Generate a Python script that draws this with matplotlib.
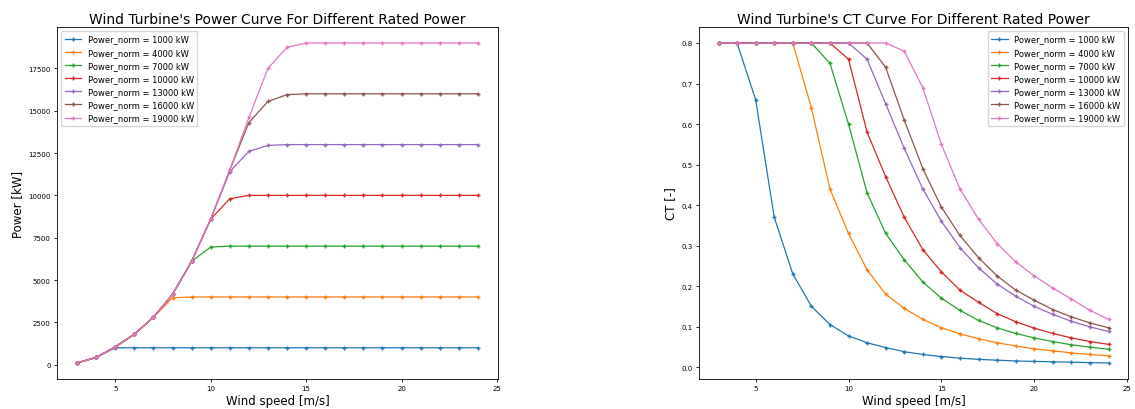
import numpy as np
import matplotlib.pyplot as plt

wind_speed = list(range(3, 25))
rated_power = [1000, 4000, 7000, 10000, 13000, 16000, 19000]
legend_labels = ["Power_norm = %d kW" % p for p in rated_power]

# power curves [kW], one list per rated power
power_1000 = [100, 430, 1000] + [1000] * 19
power_4000 = [100, 430, 1050, 1800, 2800, 3950] + [4000] * 16
power_7000 = [100, 430, 1050, 1800, 2800, 4150, 6100, 6950] + [7000] * 14
power_10000 = [100, 430, 1050, 1800, 2800, 4150, 6100, 8600, 9800] + [10000] * 13
power_13000 = [100, 430, 1050, 1800, 2800, 4150, 6100, 8600, 11400, 12600, 12950] + [13000] * 11
power_16000 = [100, 430, 1050, 1800, 2800, 4150, 6100, 8600, 11500, 14300, 15550, 15950] + [16000] * 10
power_19000 = [100, 430, 1050, 1800, 2800, 4150, 6100, 8600, 11500, 14600, 17500, 18750] + [19000] * 10

# thrust coefficient curves [-]
ct_1000 = [0.8, 0.8, 0.66, 0.37, 0.23, 0.15, 0.105, 0.077, 0.06, 0.048, 0.038, 0.031,
           0.026, 0.022, 0.019, 0.017, 0.015, 0.014, 0.013, 0.012, 0.011, 0.010]
ct_4000 = [0.8, 0.8, 0.8, 0.8, 0.8, 0.64, 0.44, 0.33, 0.24, 0.18, 0.145, 0.118,
           0.097, 0.082, 0.07, 0.06, 0.052, 0.045, 0.04, 0.035, 0.031, 0.028]
ct_7000 = [0.8, 0.8, 0.8, 0.8, 0.8, 0.8, 0.75, 0.6, 0.43, 0.33, 0.265, 0.21,
           0.17, 0.14, 0.115, 0.097, 0.083, 0.072, 0.063, 0.055, 0.049, 0.044]
ct_10000 = [0.8, 0.8, 0.8, 0.8, 0.8, 0.8, 0.8, 0.76, 0.58, 0.47, 0.37, 0.29,
            0.235, 0.19, 0.16, 0.132, 0.112, 0.096, 0.083, 0.072, 0.063, 0.056]
ct_13000 = [0.8, 0.8, 0.8, 0.8, 0.8, 0.8, 0.8, 0.8, 0.76, 0.65, 0.54, 0.44,
            0.36, 0.295, 0.245, 0.205, 0.175, 0.15, 0.13, 0.113, 0.099, 0.088]
ct_16000 = [0.8, 0.8, 0.8, 0.8, 0.8, 0.8, 0.8, 0.8, 0.8, 0.74, 0.61, 0.49,
            0.395, 0.325, 0.27, 0.225, 0.19, 0.165, 0.142, 0.124, 0.109, 0.097]
ct_19000 = [0.8, 0.8, 0.8, 0.8, 0.8, 0.8, 0.8, 0.8, 0.8, 0.8, 0.78, 0.69,
            0.55, 0.44, 0.365, 0.305, 0.26, 0.225, 0.195, 0.168, 0.14, 0.118]

power_curves = [power_1000, power_4000, power_7000, power_10000, power_13000, power_16000, power_19000]
ct_curves = [ct_1000, ct_4000, ct_7000, ct_10000, ct_13000, ct_16000, ct_19000]

fig = plt.figure(figsize=(11.35, 4.10), dpi=100)
ax1 = fig.add_axes([57 / 1135, 30 / 410, 441 / 1135, 352 / 410])
ax2 = fig.add_axes([699 / 1135, 30 / 410, 429 / 1135, 352 / 410])

for p, lab in zip(power_curves, legend_labels):
    ax1.plot(wind_speed, p, marker='+', markersize=3.5, linewidth=0.9, label=lab)
for c, lab in zip(ct_curves, legend_labels):
    ax2.plot(wind_speed, c, marker='+', markersize=3.5, linewidth=0.9, label=lab)

ax1.set_title("Wind Turbine's Power Curve For Different Rated Power", fontsize=10, pad=3)
ax1.set_xlabel("Wind speed [m/s]", fontsize=8.5, labelpad=2)
ax1.set_ylabel("Power [kW]", fontsize=8.5, labelpad=3)
ax1.legend(loc='upper left', fontsize=6)

ax2.set_title("Wind Turbine's CT Curve For Different Rated Power", fontsize=10, pad=3)
ax2.set_xlabel("Wind speed [m/s]", fontsize=8.5, labelpad=2)
ax2.set_ylabel("CT [-]", fontsize=8.5, labelpad=3)
ax2.legend(loc='upper right', fontsize=6)

for ax in (ax1, ax2):
    ax.set_xticks([5, 10, 15, 20, 25])
    ax.tick_params(labelsize=5, length=2.5, width=0.6, pad=2)
    for s in ax.spines.values():
        s.set_linewidth(0.6)
ax1.set_yticks([0, 2500, 5000, 7500, 10000, 12500, 15000, 17500])

fig.savefig("out.png", dpi=100)
